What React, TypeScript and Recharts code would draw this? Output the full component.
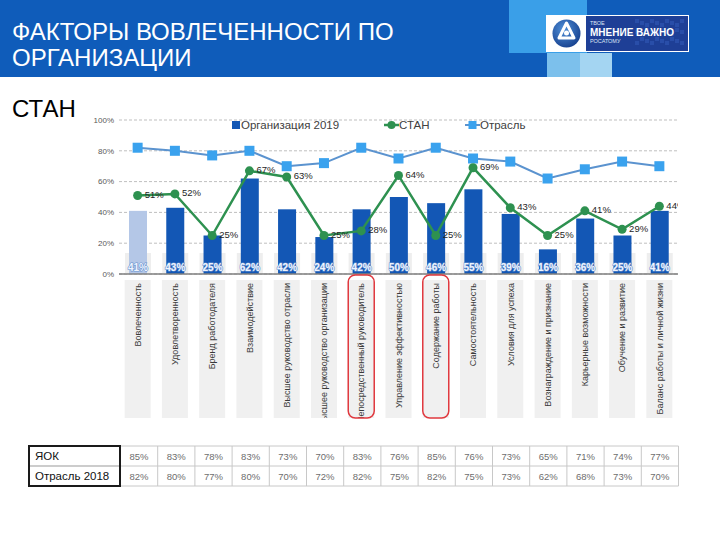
import React from 'react';
import { ComposedChart, Bar, Line, XAxis, YAxis, CartesianGrid, Legend, LabelList } from 'recharts';

const FONT = '"Liberation Sans", Arial, sans-serif';

const categories = [
  'Вовлеченность',
  'Удовлетворенность',
  'Бренд работодателя',
  'Взаимодействие',
  'Высшее руководство отрасли',
  'Высшее руководство организации',
  'Непосредственный руководитель',
  'Управление эффективностью',
  'Содержание работы',
  'Самостоятельность',
  'Условия для успеха',
  'Вознаграждение и признание',
  'Карьерные возможности',
  'Обучение и развитие',
  'Баланс работы и личной жизни',
];
const org2019 = [41, 43, 25, 62, 42, 24, 42, 50, 46, 55, 39, 16, 36, 25, 41];
const stan = [51, 52, 25, 67, 63, 25, 28, 64, 25, 69, 43, 25, 41, 29, 44];
const industry = [82, 80, 77, 80, 70, 72, 82, 75, 82, 75, 73, 62, 68, 73, 70];
const yokRow = [85, 83, 78, 83, 73, 70, 83, 76, 85, 76, 73, 65, 71, 74, 77];
const industry2018Row = [82, 80, 77, 80, 70, 72, 82, 75, 82, 75, 73, 62, 68, 73, 70];
const yTicks = [0, 20, 40, 60, 80, 100];
const highlighted = [6, 8];
const seriesNames = ['Организация 2019', 'СТАН', 'Отрасль'];
const tableRowLabels = ['ЯОК', 'Отрасль 2018'];
const tableRows = [yokRow, industry2018Row];

const COLORS = {
  bar: '#1357B5',
  barFirst: '#B4C7E7',
  stan: '#2E9150',
  industryLine: '#5B93CF',
  industryMarker: '#3AA2EE',
};

const data = categories.map((name, i) => ({
  name,
  org: org2019[i],
  stan: stan[i],
  ind: industry[i],
}));

const BarShape = (props: any) => {
  const { x, y, width, height, index } = props;
  const base = y + height;
  return (
    <g>
      <rect x={x - 4} y={base - 21} width={width + 8} height={21} fill="#EEEEEE" />
      <rect x={x} y={y} width={width} height={height} fill={index === 0 ? COLORS.barFirst : COLORS.bar} />
    </g>
  );
};

const BarValueLabel = (props: any) => {
  const vb = props.viewBox || {};
  const x = props.x ?? vb.x;
  const y = props.y ?? vb.y;
  const width = props.width ?? vb.width;
  const height = props.height ?? vb.height;
  const base = Number(y) + Number(height);
  return (
    <text
      x={Number(x) + Number(width) / 2}
      y={base - 3.5}
      textAnchor="middle"
      fontSize={10}
      fontWeight="bold"
      fontFamily={FONT}
      fill="#EEF4FF"
      stroke="#6C94CF"
      strokeWidth={1.2}
      paintOrder="stroke"
    >
      {props.value}%
    </text>
  );
};

const StanLabel = (props: any) => {
  const vb = props.viewBox || {};
  const x = Number(props.x ?? vb.x);
  const y = Number(props.y ?? vb.y);
  const id = `stanclip${props.index}`;
  return (
    <g>
      <defs>
        <clipPath id={id}>
          <rect x={0} y={0} width={678} height={320} />
        </clipPath>
      </defs>
      <g clipPath={`url(#${id})`}>
        <text x={x + 7} y={y + 2.5} fontSize={9.5} fontFamily={FONT} fill="#262626">
          {props.value}%
        </text>
      </g>
    </g>
  );
};

const SquareDot = (props: any) => {
  const { cx, cy } = props;
  if (cx == null || cy == null) return null;
  return <rect x={cx - 5} y={cy - 5} width={10} height={10} fill={COLORS.industryMarker} />;
};

const CircleDot = (props: any) => {
  const { cx, cy } = props;
  if (cx == null || cy == null) return null;
  return <circle cx={cx} cy={cy} r={4.5} fill={COLORS.stan} />;
};

const CatTick = (props: any) => {
  const { x, y, payload } = props;
  const i = payload?.index ?? props.index;
  const label = categories[i] ?? payload?.value;
  const id = `catclip${i}`;
  return (
    <g>
      <defs>
        <clipPath id={id}>
          <rect x={x - 13} y={y + 5} width={26} height={139} />
        </clipPath>
      </defs>
      <rect x={x - 13} y={y + 6} width={26} height={138} fill="#F0F0F0" />
      <g clipPath={`url(#${id})`}>
        <text
          transform={`translate(${x + 3.2},${y + 9}) rotate(-90)`}
          textAnchor="end"
          fontSize={9}
          fontFamily={FONT}
          fill="#3A3A3A"
        >
          {label}
        </text>
      </g>
      {highlighted.includes(i) && (
        <rect x={x - 13} y={y + 1} width={26} height={143} rx={7} fill="none" stroke="#E0383E" strokeWidth={1.5} />
      )}
    </g>
  );
};

const LegendContent = () => {
  const textStyle: React.CSSProperties = {
    position: 'absolute',
    top: 0,
    fontSize: 11.5,
    lineHeight: '16px',
    color: '#404040',
    fontFamily: FONT,
    whiteSpace: 'nowrap',
  };
  return (
    <div style={{ position: 'relative', width: 720, height: 16 }}>
      <div style={{ position: 'absolute', left: 232, top: 4, width: 8, height: 8, background: COLORS.bar }} />
      <div style={{ ...textStyle, left: 241 }}>{seriesNames[0]}</div>
      <svg style={{ position: 'absolute', left: 384, top: 0 }} width={16} height={16}>
        <line x1={0} y1={8} x2={15} y2={8} stroke={COLORS.stan} strokeWidth={2.5} />
        <circle cx={7.5} cy={8} r={4} fill={COLORS.stan} />
      </svg>
      <div style={{ ...textStyle, left: 399 }}>{seriesNames[1]}</div>
      <svg style={{ position: 'absolute', left: 465, top: 0 }} width={16} height={16}>
        <line x1={0} y1={8} x2={15} y2={8} stroke={COLORS.industryLine} strokeWidth={2} />
        <rect x={3.5} y={4} width={8} height={8} fill={COLORS.industryMarker} />
      </svg>
      <div style={{ ...textStyle, left: 480 }}>{seriesNames[2]}</div>
    </div>
  );
};

const COL0 = 120.5;
const COLW = 37.2;

const DataTable = () => (
  <svg width={720} height={60} style={{ position: 'absolute', left: 0, top: 440 }}>
    {[6, 26, 46].map((yy) => (
      <line key={yy} x1={120} x2={COL0 + 15 * COLW} y1={yy} y2={yy} stroke="#C8C8C8" strokeWidth={1} />
    ))}
    {Array.from({ length: 15 }, (_, k) => (
      <line key={k} x1={COL0 + (k + 1) * COLW} x2={COL0 + (k + 1) * COLW} y1={6} y2={46} stroke="#C8C8C8" strokeWidth={1} />
    ))}
    <line x1={29} x2={120} y1={26} y2={26} stroke="#999" strokeWidth={1} />
    <rect x={29} y={6} width={91} height={40} fill="none" stroke="#1A1A1A" strokeWidth={2} />
    {tableRows.map((row, r) => (
      <g key={r}>
        <text x={35} y={20 + r * 20} fontSize={11.5} fontFamily={FONT} fill="#111">
          {tableRowLabels[r]}
        </text>
        {row.map((v, k) => (
          <text key={k} x={COL0 + k * COLW + 9} y={19.5 + r * 20} fontSize={9.5} fontFamily={FONT} fill="#6E6E6E">
            {v}%
          </text>
        ))}
      </g>
    ))}
  </svg>
);

const Header = () => (
  <>
    <div style={{ position: 'absolute', left: 0, top: 0, width: 720, height: 77, background: '#0F5CBA' }} />
    <div style={{ position: 'absolute', left: 509, top: 0, width: 78, height: 53, background: '#3A9FE8' }} />
    <div style={{ position: 'absolute', left: 547, top: 53, width: 33, height: 24, background: '#7CC0EC' }} />
    <div style={{ position: 'absolute', left: 580, top: 53, width: 32, height: 24, background: '#A4D5F2' }} />
    <div
      style={{
        position: 'absolute',
        left: 546,
        top: 15,
        width: 141,
        height: 35,
        border: '1px solid #FFFFFF',
        background: '#1E3F96',
      }}
    />
    <div style={{ position: 'absolute', left: 547, top: 16, width: 39, height: 35, background: '#FFFFFF' }} />
    <svg style={{ position: 'absolute', left: 547, top: 16 }} width={39} height={35}>
      <defs>
        <radialGradient id="logoGrad" cx="40%" cy="35%" r="70%">
          <stop offset="0%" stopColor="#4F8FD8" />
          <stop offset="100%" stopColor="#16408E" />
        </radialGradient>
      </defs>
      <circle cx={19.5} cy={17.5} r={14} fill="url(#logoGrad)" />
      <path d="M19.5 7 L27 22 L12 22 Z" fill="none" stroke="#FFFFFF" strokeWidth={3} strokeLinejoin="round" />
      <circle cx={19.5} cy={17} r={2.5} fill="#FFFFFF" />
    </svg>
    <svg style={{ position: 'absolute', left: 587, top: 16 }} width={100} height={35}>
      {Array.from({ length: 30 }, (_, k) => (
        <rect
          key={k}
          x={48 + (k % 10) * 5}
          y={3 + Math.floor(k / 10) * 9 + ((k * 7) % 3) * 2}
          width={4}
          height={4}
          fill="#2D56B0"
          opacity={0.7}
        />
      ))}
      <text x={3} y={9} fontSize={5.5} fontFamily={FONT} fill="#DDE6F5">
        ТВОЕ
      </text>
      <text x={3} y={20} fontSize={10} fontWeight="bold" fontFamily={FONT} fill="#FFFFFF">
        МНЕНИЕ ВАЖНО
      </text>
      <text x={3} y={27} fontSize={5.5} fontFamily={FONT} fill="#DDE6F5">
        РОСАТОМУ
      </text>
    </svg>
    <div
      style={{
        position: 'absolute',
        left: 12,
        top: 19,
        fontSize: 24,
        lineHeight: '26px',
        color: '#FFFFFF',
        fontFamily: FONT,
        whiteSpace: 'nowrap',
      }}
    >
      ФАКТОРЫ ВОВЛЕЧЕННОСТИ ПО
      <br />
      ОРГАНИЗАЦИИ
    </div>
  </>
);

export default function App() {
  return (
    <div style={{ position: 'absolute', left: 0, top: 0, width: 720, height: 540, background: '#FFFFFF', overflow: 'hidden', fontFamily: FONT }}>
      <Header />
      <div
        style={{
          position: 'absolute',
          left: 12,
          top: 95,
          fontSize: 24,
          lineHeight: '28px',
          color: '#000000',
          fontFamily: FONT,
        }}
      >
        СТАН
      </div>
      <div style={{ position: 'absolute', left: 0, top: 110, width: 720, height: 320 }}>
        <ComposedChart width={720} height={320} data={data} margin={{ top: 10, right: 42, left: 79, bottom: 6 }}>
          <CartesianGrid vertical={false} stroke="#BFBFBF" strokeDasharray="3 2" />
          <XAxis
            dataKey="name"
            height={150}
            interval={0}
            axisLine={{ stroke: '#7F7F7F', strokeWidth: 1.5 }}
            tickLine={false}
            tickSize={0}
            tickMargin={0}
            tick={<CatTick />}
          />
          <YAxis
            width={40}
            domain={[0, 100]}
            ticks={yTicks}
            tickFormatter={(v: number) => `${v}%`}
            axisLine={false}
            tickLine={false}
            tickSize={0}
            tickMargin={5}
            tick={{ fontSize: 8, fill: '#595959', fontFamily: FONT }}
          />
          <Legend
            layout="vertical"
            verticalAlign="middle"
            align="center"
            wrapperStyle={{ top: 7, left: 0, width: 720, height: 16 }}
            content={<LegendContent />}
          />
          <Bar dataKey="org" name={seriesNames[0]} barSize={18} fill={COLORS.bar} shape={<BarShape />} isAnimationActive={false}>
            <LabelList dataKey="org" content={<BarValueLabel />} />
          </Bar>
          <Line
            dataKey="ind"
            name={seriesNames[2]}
            stroke={COLORS.industryLine}
            strokeWidth={2}
            dot={<SquareDot />}
            activeDot={false}
            isAnimationActive={false}
          />
          <Line
            dataKey="stan"
            name={seriesNames[1]}
            stroke={COLORS.stan}
            strokeWidth={2.5}
            dot={<CircleDot />}
            activeDot={false}
            isAnimationActive={false}
          >
            <LabelList dataKey="stan" content={<StanLabel />} />
          </Line>
        </ComposedChart>
      </div>
      <DataTable />
    </div>
  );
}
